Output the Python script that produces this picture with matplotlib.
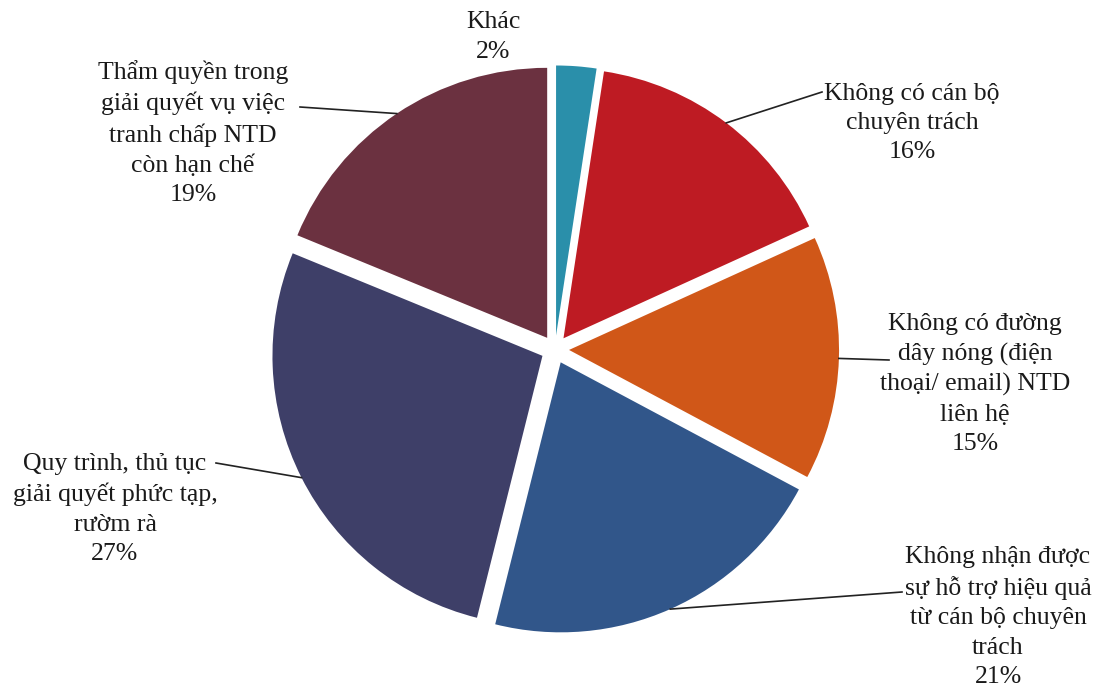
import matplotlib.pyplot as plt
import numpy as np

plt.rcParams['font.family'] = ['Liberation Serif', 'DejaVu Serif']

# data
names = ["Khác",
         "Không có cán bộ\nchuyên trách",
         "Không có đường\ndây nóng (điện\nthoại/ email) NTD\nliên hệ",
         "Không nhận được\nsự hỗ trợ hiệu quả\ntừ cán bộ chuyên\ntrách",
         "Quy trình, thủ tục\ngiải quyết phức tạp,\nrườm rà",
         "Thẩm quyền trong\ngiải quyết vụ việc\ntranh chấp NTD\ncòn hạn chế"]
values = [2.4, 15.8, 14.6, 21.1, 27.3, 18.8]
colors = ["#2A8FAA", "#BE1B23", "#D05718", "#31568A", "#3E3F68", "#6B3140"]

# layout (pixel positions, y measured from top)
W, H = 1103, 689
cx, cy, R = 555, 349.5, 270
label_pos = [(493, 37), (912, 123), (975, 384), (998, 617), (115, 509), (193, 133)]
leader_end = [None, (822, 92), (889, 360), (902, 592), (216, 463), (300, 107)]
expl = 0.052 * R  # pie offsets wedges by explode in data units

fig = plt.figure(figsize=(W / 100, H / 100), dpi=100)
ax = fig.add_axes([0, 0, 1, 1])

wedges, _ = ax.pie(values, colors=colors, startangle=90, counterclock=False,
                   explode=[expl] * len(values), center=(cx, H - cy), radius=R,
                   wedgeprops=dict(linewidth=0))

for w, name, v, pos, end in zip(wedges, names, values, label_pos, leader_end):
    ax.text(pos[0], H - pos[1], name + "\n" + f"{round(v)}%", ha='center', va='center',
            fontsize=18.5, color='#1a1a1a', linespacing=1.42)
    if end is None:
        continue
    mid = np.deg2rad((w.theta1 + w.theta2) / 2)
    wx, wy = w.center
    ax_x = wx + R * np.cos(mid)
    ax_y = wy + R * np.sin(mid)
    ax.plot([ax_x, end[0]], [ax_y, H - end[1]], color='#222222', lw=1.2)

ax.set_xlim(0, W)
ax.set_ylim(0, H)
ax.set_aspect('equal')
ax.axis('off')

fig.savefig('out.png', dpi=100, facecolor='white')
